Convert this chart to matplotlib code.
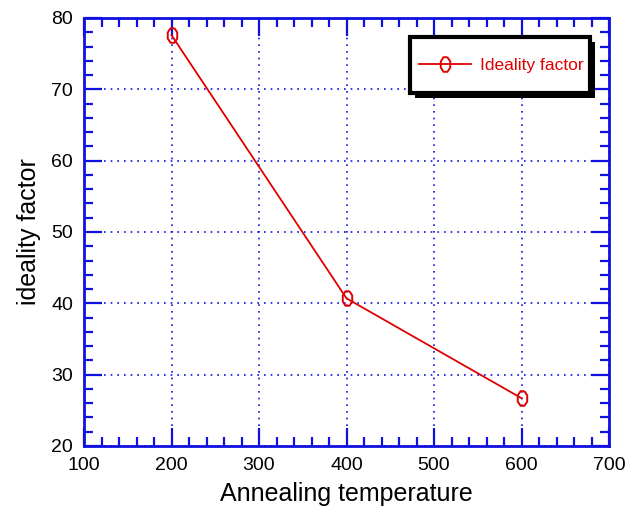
import numpy as np
import matplotlib
matplotlib.use("Agg")
import matplotlib.pyplot as plt
from matplotlib.ticker import MultipleLocator
from matplotlib.patches import Rectangle

plt.rcParams['font.family'] = ['Liberation Sans', 'DejaVu Sans']

temperatura = [200, 400, 600]
ideality = [77.6, 40.7, 26.7]

azul = '#1010e0'
rojo = '#e00000'

W, H = 628, 509

# marcador ovalado (tipo "0")
t = np.linspace(0, 2 * np.pi, 9) + np.pi / 8
ovalo = np.column_stack([0.65 * np.sin(t), np.cos(t)])

fig = plt.figure(figsize=(W / 100, H / 100), dpi=100)
ax = fig.add_axes([84 / W, 1 - 446 / H, 525 / W, 428 / H])

linea, = ax.plot(temperatura, ideality, color=rojo, lw=1.3, marker=ovalo,
                 markersize=10.5, markerfacecolor='none', markeredgecolor=rojo,
                 markeredgewidth=1.4, label='Ideality factor')

ax.set_xlim(100, 700)
ax.set_ylim(20, 80)
ax.xaxis.set_major_locator(MultipleLocator(100))
ax.xaxis.set_minor_locator(MultipleLocator(20))
ax.yaxis.set_major_locator(MultipleLocator(10))
ax.yaxis.set_minor_locator(MultipleLocator(2))

ax.tick_params(which='both', direction='in', top=True, right=True,
               color=azul, labelsize=14, labelcolor='black', pad=8)
ax.tick_params(which='major', length=13, width=1.6)
ax.tick_params(which='minor', length=6.5, width=1.6)
for s in ax.spines.values():
    s.set_color(azul)
    s.set_linewidth(2)

ax.grid(True, which='major', color=azul, linestyle=(0, (1, 3)), linewidth=1.2)

ax.set_xlabel('Annealing temperature', fontsize=18, labelpad=6)
ax.set_ylabel('ideality factor', fontsize=18, labelpad=7)

# caja de la leyenda con sombra negra
x0, y0, bw, bh = 410, 37, 180, 56
sombra = Rectangle(((x0 + 5) / W, 1 - (y0 + bh + 5) / H), bw / W, bh / H,
                   transform=fig.transFigure, facecolor='black',
                   edgecolor='none', zorder=5)
caja = Rectangle((x0 / W, 1 - (y0 + bh) / H), bw / W, bh / H,
                 transform=fig.transFigure, facecolor='white',
                 edgecolor='black', lw=3, zorder=6)
fig.patches.extend([sombra, caja])

leg = fig.legend(handles=[linea], loc='center',
                 bbox_to_anchor=((x0 + bw / 2 + 1) / W, 1 - (y0 + bh / 2) / H),
                 fontsize=12.5, frameon=False, handlelength=3,
                 handletextpad=0.5, borderpad=0)
leg.set_zorder(7)
for txt in leg.get_texts():
    txt.set_color(rojo)

fig.savefig('out.png', dpi=100)
